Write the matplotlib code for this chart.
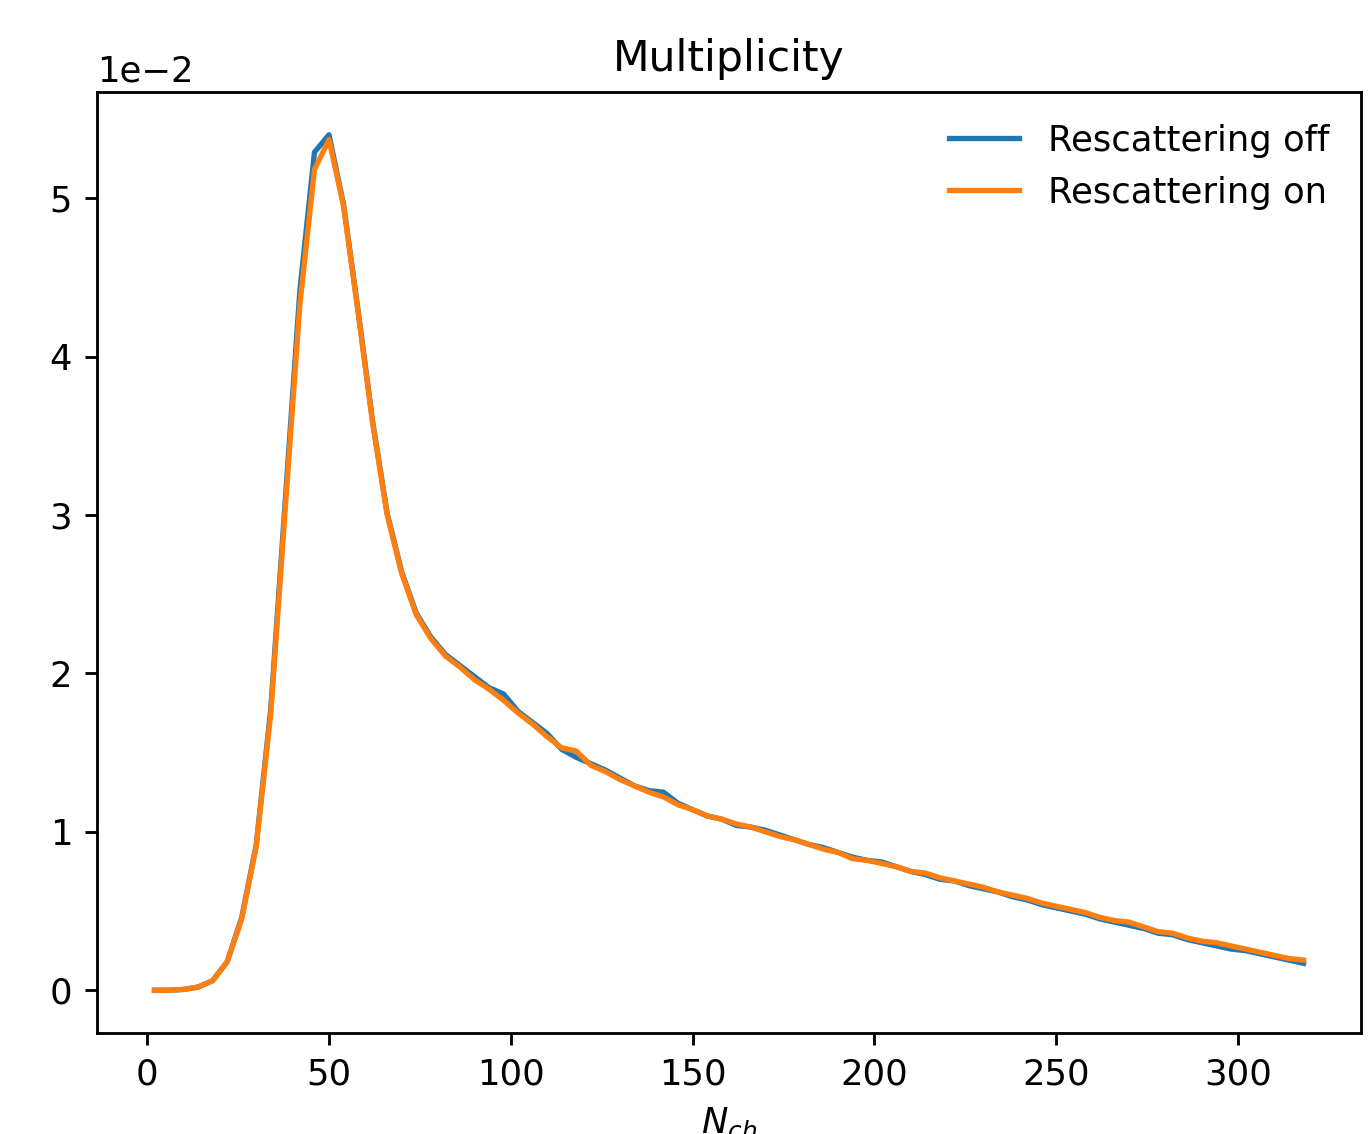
import numpy as np
import matplotlib
matplotlib.use("Agg")
import matplotlib.pyplot as plt

# bin centres of N_ch
n_ch = list(range(2, 319, 4))

# multiplicity distribution (units of 1e-2)
resc_off = [0.0, 0.0, 0.005, 0.02, 0.06, 0.18, 0.46, 0.92, 1.78, 3.10,
            4.42, 5.29, 5.40, 4.96, 4.29, 3.59, 3.01, 2.64, 2.38, 2.23,
            2.12, 2.05, 1.98, 1.91, 1.87, 1.76, 1.69, 1.62, 1.52, 1.47,
            1.43, 1.39, 1.34, 1.29, 1.26, 1.25, 1.18, 1.14, 1.10, 1.08,
            1.04, 1.03, 1.01, 0.98, 0.95, 0.92, 0.90, 0.87, 0.84, 0.82,
            0.81, 0.78, 0.75, 0.73, 0.70, 0.69, 0.66, 0.64, 0.62, 0.59,
            0.57, 0.54, 0.52, 0.50, 0.48, 0.45, 0.43, 0.41, 0.39, 0.36,
            0.35, 0.32, 0.30, 0.28, 0.26, 0.25, 0.23, 0.21, 0.19, 0.17]
resc_on = [0.0, 0.0, 0.005, 0.02, 0.06, 0.18, 0.45, 0.91, 1.75, 3.05,
           4.33, 5.18, 5.37, 4.95, 4.28, 3.58, 3.00, 2.63, 2.37, 2.22,
           2.11, 2.04, 1.96, 1.90, 1.83, 1.75, 1.68, 1.60, 1.53, 1.51,
           1.42, 1.38, 1.33, 1.29, 1.25, 1.22, 1.17, 1.14, 1.10, 1.08,
           1.05, 1.03, 1.00, 0.97, 0.95, 0.92, 0.89, 0.87, 0.83, 0.82,
           0.80, 0.78, 0.75, 0.74, 0.71, 0.69, 0.67, 0.65, 0.62, 0.60,
           0.58, 0.55, 0.53, 0.51, 0.49, 0.46, 0.44, 0.43, 0.40, 0.37,
           0.36, 0.33, 0.31, 0.30, 0.28, 0.26, 0.24, 0.22, 0.20, 0.19]

dpi = 255
fig = plt.figure(figsize=(1370 / dpi, 1134 / dpi), dpi=dpi)
ax = fig.add_axes([97 / 1370, 101 / 1134, 1264 / 1370, 941 / 1134])

ax.plot(n_ch, np.array(resc_off) * 1e-2, label="Rescattering off")
ax.plot(n_ch, np.array(resc_on) * 1e-2, label="Rescattering on")

ax.ticklabel_format(axis="y", style="sci", scilimits=(0, 0))
ax.set_title("Multiplicity", fontsize=12)
ax.set_xlabel("$N_{ch}$")
ax.legend(loc="upper right", frameon=False)

fig.savefig("out.png", dpi=dpi)
